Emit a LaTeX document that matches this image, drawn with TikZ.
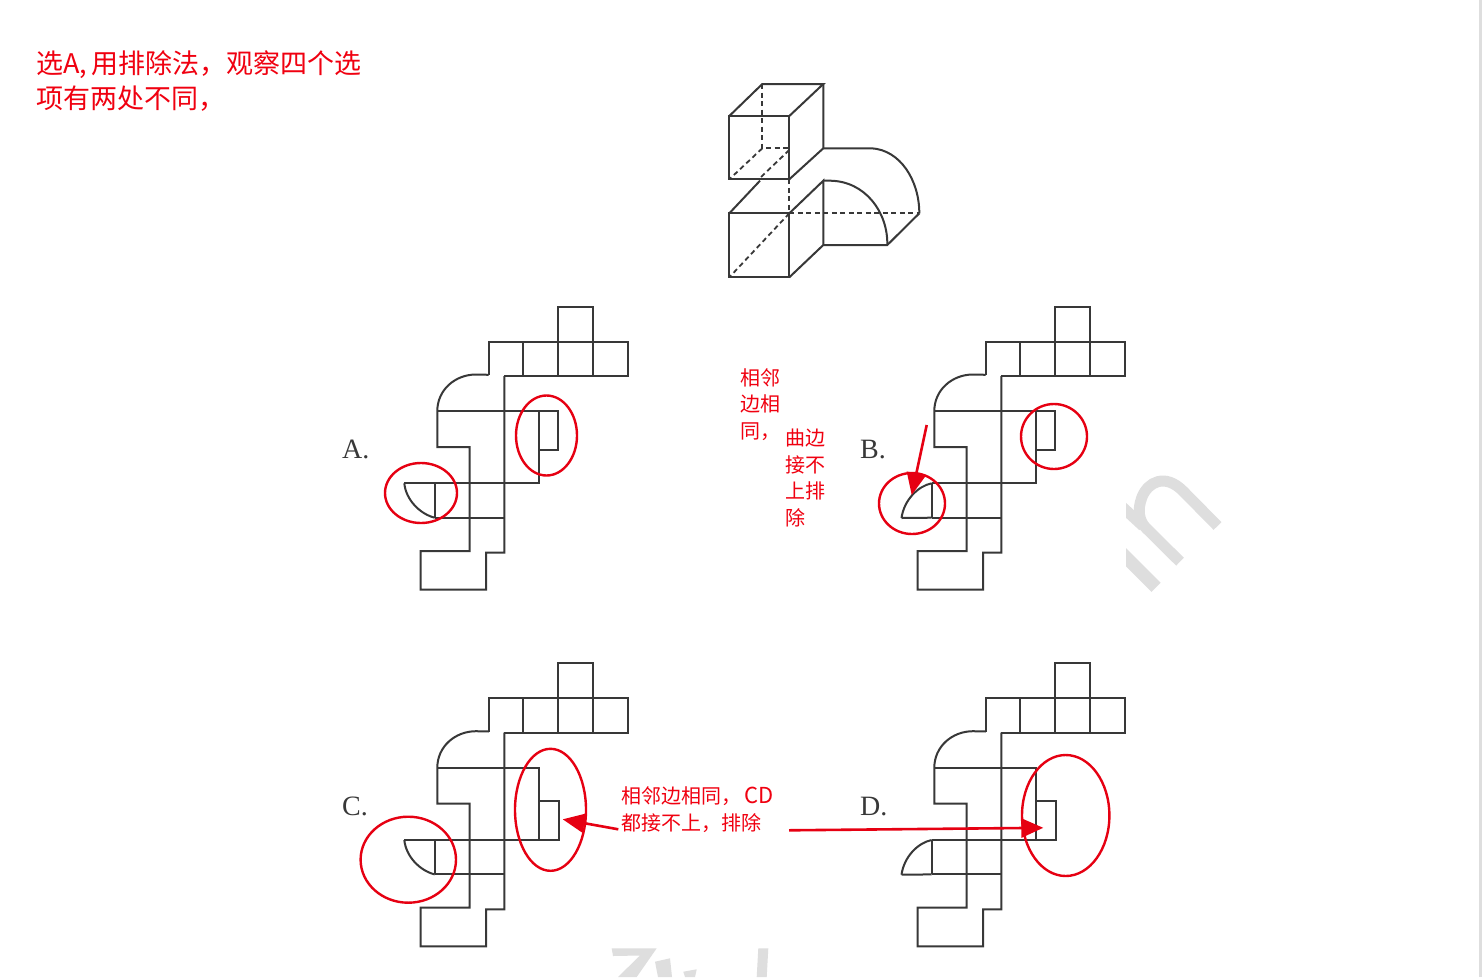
\documentclass[tikz,border=0pt]{standalone}
\usepackage{fontspec}
\setmainfont{Noto Sans CJK SC}
\newfontfamily\labelfont{Liberation Serif}
\usetikzlibrary{arrows.meta}
\definecolor{netink}{HTML}{383838}
\definecolor{markred}{HTML}{E60012}
\definecolor{noteRed}{HTML}{F00010}
\definecolor{wmark}{HTML}{DEDEDE}
\tikzset{
  netline/.style={draw=netink,line width=2pt,line join=miter},
  dashline/.style={draw=netink,line width=1.8pt,dash pattern=on 5pt off 3.5pt},
  ring/.style={draw=markred,line width=2.4pt},
  pointer/.style={draw=markred,line width=2.6pt,-{Triangle[length=22pt,width=19pt]}},
  bignote/.style={anchor=west,inner sep=0pt,align=left,text=noteRed,font=\fontsize{27}{35}\selectfont},
  smallnote/.style={anchor=west,inner sep=0pt,align=left,text=noteRed,font=\fontsize{20}{26.7}\selectfont},
  optlabel/.style={anchor=base west,inner sep=0pt,text=netink,font=\labelfont\fontsize{28}{28}\selectfont},
  wmstroke/.style={draw=wmark,line width=11pt,line cap=butt}
}
% shared part of the four unfolded nets (drawn at net A's position)
\newcommand{\netbase}{%
  \draw[netline] (558.3,341.7) -- (558.3,306.7) -- (593.3,306.7) -- (593.3,341.7);
  \draw[netline] (488.7,374.8) -- (488.7,341.7) -- (628.3,341.7) -- (628.3,376) -- (504.3,376);
  \draw[netline] (523.3,341.7) -- (523.3,376);
  \draw[netline] (558.3,341.7) -- (558.3,376);
  \draw[netline] (593.3,341.7) -- (593.3,376);
  \draw[netline] (488.7,374.8) -- (476,374.5) .. controls (455,374.5) and (437.3,390) .. (437.3,411)
     -- (437.3,447) -- (469.7,447) -- (469.7,551) -- (420.7,551) -- (420.7,589.7) -- (486,589.7) -- (486,552.7) -- (504.3,552.7) -- (504.3,376);
  \draw[netline] (437.3,411) -- (539,411) -- (539,483.3) -- (434.7,483.3);
  \draw[netline] (434.7,517.7) -- (504.3,517.7);
  \draw[netline] (434.7,483.3) -- (434.7,517.7);
}
\newcommand{\flapup}{%
  \draw[netline] (539,411) -- (558.3,411) -- (558.3,450.3) -- (539,450.3);
}
\newcommand{\flapdown}{%
  \draw[netline] (539,444.3) -- (558.8,444.3) -- (558.8,483.3) -- (539,483.3);
}
\newcommand{\curvedown}{%
  \draw[netline] (404.3,483.3) -- (434.7,483.3);
  \draw[netline] (404.3,483.3) .. controls (406,500) and (420,514) .. (434.7,517.7);
}
\newcommand{\curveup}{%
  \draw[netline] (404.5,518) -- (434.7,517.7);
  \draw[netline] (404.5,518) .. controls (407,500) and (421,486) .. (434.7,483.3);
}
\begin{document}
\begin{tikzpicture}[x=1pt,y=-1pt]
\useasboundingbox (0,0) rectangle (1482,977);
\fill[white] (0,0) rectangle (1482,977);
\fill[wmark] (1478.7,0) rectangle (1482,977);
% watermark fragments
\begin{scope}
  \clip (1126,460) rectangle (1240,600);
  \draw[wmstroke] (1217.5,526) -- (1183,491) .. controls (1165,473) and (1148,482) .. (1142,497)
     .. controls (1137,510) and (1139,521) .. (1146,528) -- (1180,561.7);
  \draw[wmstroke] (1118,503) -- (1143,526);
  \draw[wmstroke,line width=13pt] (1118,549.3) -- (1156,587.3);
\end{scope}
\fill[wmark] (611.7,948.3) -- (656.7,948.3) -- (636.7,977) -- (618,977) -- (640,955.5) -- (613,956) -- cycle;
\fill[wmark] (655,961.7) -- (670,958.3) -- (672,977) -- (658,977) -- cycle;
\fill[wmark] (683.3,971.7) -- (696.7,969.3) -- (695,977) -- (685,977) -- cycle;
\fill[wmark] (758.3,948.3) -- (768.3,948.3) -- (766.7,977) -- (756.7,977) -- cycle;
% the solid
\draw[netline] (729.3,116) rectangle (789.3,179.3);
\draw[netline] (729.3,116) -- (762.3,84) -- (823.3,84) -- (789.3,116);
\draw[netline] (823.3,84) -- (823.3,148.3) -- (789.3,179.3);
\draw[dashline] (762.3,84) -- (762.3,148.3) -- (789.3,148.3);
\draw[dashline] (762.3,148.3) -- (729.3,179.3);
\draw[dashline] (789.3,150) -- (760,178);
\draw[netline] (760,180.7) -- (729.3,213.3);
\draw[dashline] (789.3,179.3) -- (789.3,213.3);
\draw[netline] (729.3,213.3) rectangle (789.3,277.3);
\draw[netline] (789.3,213.3) -- (823.3,180.7) -- (823.3,245) -- (789.3,277.3);
\draw[netline] (823.3,245) -- (887.3,245) -- (919.3,213.3);
\draw[netline] (823.3,148.3) -- (871.7,148.3) .. controls (900,150) and (919.3,180) .. (919.3,213.3);
\draw[netline] (823.3,180.7) -- (830,180.7) .. controls (865,181) and (888,212) .. (887.3,245);
\draw[dashline] (789.3,213.3) -- (919.3,213.3);
\draw[dashline] (789.3,213.3) -- (729.3,277.3);
% nets
\begin{scope}\netbase\flapup\curvedown\end{scope}
\begin{scope}[xshift=497pt]\netbase\flapup\curveup\end{scope}
\begin{scope}[yshift=-356.7pt]\netbase\flapdown\curvedown\end{scope}
\begin{scope}[xshift=497pt,yshift=-356.7pt]\netbase\flapdown\curveup\end{scope}
% option labels
\node[optlabel] (optA) at (342,458.3) {A.};
\node[optlabel] (optB) at (860,458.3) {B.};
\node[optlabel] (optC) at (342,815) {C.};
\node[optlabel] (optD) at (860,815) {D.};
% notes
\node[bignote] (noteTop) at (36,81) {选A,\hspace{4pt}用排除法，观察四个选\\项有两处不同，};
\node[smallnote] (noteB1) at (740,404.5) {相邻\\边相\\同，};
\node[smallnote] (noteB2) at (785,478) {曲边\\接不\\上排\\除};
\node[smallnote] (noteCD) at (621,809.5) {相邻边相同，\hspace{3pt}{\fontsize{22}{26.7}\selectfont CD}\\都接不上，排除};
% rings
\draw[ring] (546.5,435.5) ellipse [x radius=30.5pt,y radius=40pt];
\draw[ring] (421,493) ellipse [x radius=36pt,y radius=30pt];
\draw[ring] (1054,436.5) ellipse [x radius=33pt,y radius=32.5pt];
\draw[ring] (912,503.5) ellipse [x radius=33pt,y radius=30.5pt];
\draw[ring] (550.5,809.8) ellipse [x radius=35.5pt,y radius=61pt];
\draw[ring] (408.3,859.7) ellipse [x radius=47.7pt,y radius=43pt];
\draw[ring] (1065.7,815.5) ellipse [x radius=43.7pt,y radius=60.5pt];
% pointers
\coordinate (tailB) at (926.7,425);
\coordinate (tipB) at (911.7,495);
\coordinate (tailC) at (618.3,829.3);
\coordinate (tipC) at (562.7,819.3);
\coordinate (tailD) at (789,830.3);
\coordinate (tipD) at (1043.3,827.8);
\draw[pointer] (tailB) -- (tipB);
\draw[pointer] (tailC) -- (tipC);
\draw[pointer] (tailD) -- (tipD);
\end{tikzpicture}
\end{document}
